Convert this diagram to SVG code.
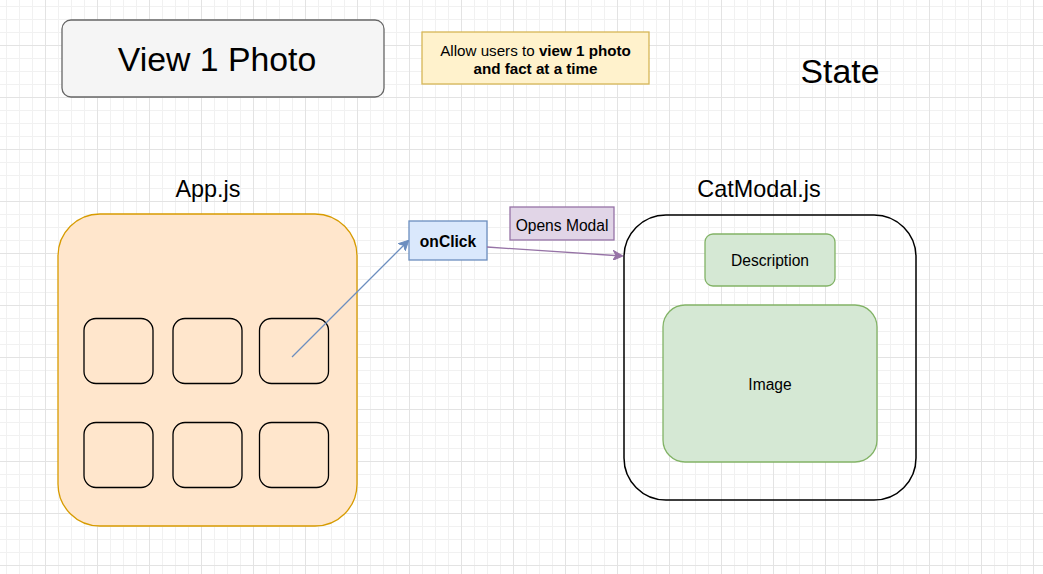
<svg xmlns="http://www.w3.org/2000/svg" width="1043" height="574" viewBox="0 0 1043 574">
<style>
text{font-family:"Liberation Sans",Arial,sans-serif;fill:#000;}
.c{text-anchor:middle;}
.b{font-weight:bold;}
.small{stroke:#000;stroke-width:1.3;fill:none;}
</style>
<defs>
<pattern id="minor" x="6" y="6" width="13" height="13" patternUnits="userSpaceOnUse">
<path d="M0,0.5 H13 M0.5,0 V13" stroke="#f1f1f1" stroke-width="1" fill="none"/>
</pattern>
<pattern id="major" x="45" y="45" width="52" height="52" patternUnits="userSpaceOnUse">
<path d="M0,0.5 H52 M0.5,0 V52" stroke="#e3e3e3" stroke-width="1" fill="none"/>
</pattern>
<marker id="arrBlue" viewBox="0 0 10 10" refX="9" refY="5" markerWidth="10" markerHeight="10" markerUnits="userSpaceOnUse" orient="auto">
<path d="M0,0 L10,5 L0,10 L3,5 z" fill="#6c8ebf" stroke="#6c8ebf" stroke-width="1"/>
</marker>
<marker id="arrPurple" viewBox="0 0 10 10" refX="9" refY="5" markerWidth="10" markerHeight="10" markerUnits="userSpaceOnUse" orient="auto">
<path d="M0,0 L10,5 L0,10 L3,5 z" fill="#9673a6" stroke="#9673a6" stroke-width="1"/>
</marker>
</defs>
<rect width="1043" height="574" fill="#fff"/>
<rect width="1043" height="574" fill="url(#minor)"/>
<rect width="1043" height="574" fill="url(#major)"/>

<g id="title">
<rect x="62" y="20" width="322" height="77" rx="9" fill="#f5f5f5" stroke="#666" stroke-width="1.3"/>
<text class="c" x="217" y="71" font-size="33.8">View 1 Photo</text>
</g>
<g id="note">
<rect x="422" y="32" width="227" height="52" fill="#fff2cc" stroke="#d6b656" stroke-width="1.3"/>
<text class="c" x="535.5" y="56" font-size="15.2">Allow users to <tspan class="b">view 1 photo</tspan></text>
<text class="c b" x="535.5" y="74" font-size="15.2">and fact at a time</text>
</g>
<g id="state">
<text class="c" x="840" y="83" font-size="33.8">State</text>
</g>

<g id="app">
<text class="c" x="208" y="197" font-size="23.4">App.js</text>
<rect x="58" y="214" width="299" height="312" rx="42" fill="#ffe6cc" stroke="#d79b00" stroke-width="1.3"/>
</g>
<g id="photo1"><rect class="small" x="84" y="318.5" width="69" height="65" rx="12"/></g>
<g id="photo2"><rect class="small" x="173" y="318.5" width="69" height="65" rx="12"/></g>
<g id="photo3"><rect class="small" x="259.5" y="318.5" width="69" height="65" rx="12"/></g>
<g id="photo4"><rect class="small" x="84" y="422.5" width="69" height="65" rx="12"/></g>
<g id="photo5"><rect class="small" x="173" y="422.5" width="69" height="65" rx="12"/></g>
<g id="photo6"><rect class="small" x="259.5" y="422.5" width="69" height="65" rx="12"/></g>

<g id="onclick">
<rect x="409" y="221" width="78" height="39" fill="#dae8fc" stroke="#6c8ebf" stroke-width="1.3"/>
<text class="c b" x="448" y="247" font-size="15.6">onClick</text>
</g>
<g id="opensModal">
<rect x="510" y="207" width="104" height="33" fill="#e1d5e7" stroke="#9673a6" stroke-width="1.3"/>
<text class="c" x="562" y="231" font-size="15.6">Opens Modal</text>
</g>

<g id="catmodal">
<text class="c" x="759" y="197" font-size="23.4">CatModal.js</text>
<rect x="624" y="215" width="292" height="285" rx="42" fill="none" stroke="#000" stroke-width="1.5"/>
</g>
<g id="description">
<rect x="705" y="234" width="130" height="52" rx="8" fill="#d5e8d4" stroke="#82b366" stroke-width="1.3"/>
<text class="c" x="770" y="266" font-size="15.6">Description</text>
</g>
<g id="image">
<rect x="663" y="305" width="214" height="157" rx="22" fill="#d5e8d4" stroke="#82b366" stroke-width="1.3"/>
<text class="c" x="770" y="390" font-size="15.6">Image</text>
</g>

<g id="connectors">
<line x1="292" y1="357" x2="408" y2="241" stroke="#6c8ebf" stroke-width="1.3" marker-end="url(#arrBlue)"/>
<line x1="487" y1="247" x2="622" y2="256" stroke="#9673a6" stroke-width="1.3" marker-end="url(#arrPurple)"/>
</g>
</svg>
